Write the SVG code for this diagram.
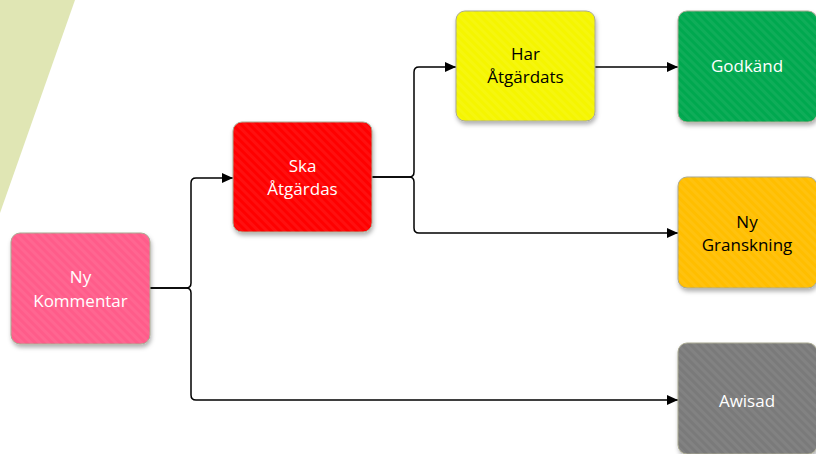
<svg xmlns="http://www.w3.org/2000/svg" width="816" height="454" viewBox="0 0 816 454">
<defs>
<style>
.node rect.box{stroke:#a8a890;stroke-width:1;filter:url(#sh)}
.node rect.tex{fill:url(#stripes);pointer-events:none}
.lbl{font-family:"Open Sans","Liberation Sans",sans-serif;font-size:17px;text-anchor:middle}
.w{fill:#ffffff}
.k{fill:#000000}
.conn path{fill:none;stroke:#000;stroke-width:1.5;marker-end:url(#arr)}
</style>
<pattern id="stripes" width="6" height="6" patternUnits="userSpaceOnUse" patternTransform="rotate(-45)">
<rect x="0" y="0" width="3" height="6" fill="#ffffff" fill-opacity="0.06"/>
</pattern>
<filter id="sh" x="-10%" y="-10%" width="125%" height="130%">
<feDropShadow dx="1" dy="3" stdDeviation="2" flood-color="#000" flood-opacity="0.3"/>
</filter>
<marker id="arr" markerWidth="12" markerHeight="10" refX="11" refY="5" orient="auto" markerUnits="userSpaceOnUse">
<path d="M0,0 L11,5 L0,10 Z" fill="#000"/>
</marker>
</defs>
<rect width="816" height="454" fill="#ffffff"/>
<polygon points="0,0 75,0 0,213" fill="#e0e6b4"/>
<g class="conn" id="connectors">
<path d="M150,288 H186 Q191,288 191,283 V183 Q191,178 196,178 H233"/>
<path d="M150,288 H186 Q191,288 191,293 V395 Q191,400 196,400 H678"/>
<path d="M372,177 H409 Q414,177 414,172 V72 Q414,67 419,67 H456"/>
<path d="M372,177 H409 Q414,177 414,182 V228 Q414,233 419,233 H678"/>
<path d="M595,67 H678"/>
</g>
<g class="node" id="ny-kommentar">
<rect class="box" x="11" y="233" width="139" height="111" rx="9" fill="#ff5c8a"/>
<rect class="tex" x="11" y="233" width="139" height="111" rx="9"/>
<text class="lbl w" x="80.5" y="283">Ny</text>
<text class="lbl w" x="80.5" y="307">Kommentar</text>
</g>
<g class="node" id="ska-atgardas">
<rect class="box" x="233" y="122" width="139" height="110" rx="9" fill="#ff0000"/>
<rect class="tex" x="233" y="122" width="139" height="110" rx="9"/>
<text class="lbl w" x="302.5" y="172">Ska</text>
<text class="lbl w" x="302.5" y="195">Åtgärdas</text>
</g>
<g class="node" id="har-atgardats">
<rect class="box" x="456" y="11" width="139" height="110" rx="9" fill="#f5f500"/>
<rect class="tex" x="456" y="11" width="139" height="110" rx="9"/>
<text class="lbl k" x="525.5" y="60">Har</text>
<text class="lbl k" x="525.5" y="83">Åtgärdats</text>
</g>
<g class="node" id="godkand">
<rect class="box" x="678" y="11" width="139" height="111" rx="9" fill="#00a84f"/>
<rect class="tex" x="678" y="11" width="139" height="111" rx="9"/>
<text class="lbl w" x="747" y="72">Godkänd</text>
</g>
<g class="node" id="ny-granskning">
<rect class="box" x="678" y="177" width="139" height="111" rx="9" fill="#ffbe00"/>
<rect class="tex" x="678" y="177" width="139" height="111" rx="9"/>
<text class="lbl k" x="747" y="228">Ny</text>
<text class="lbl k" x="747" y="251">Granskning</text>
</g>
<g class="node" id="awisad">
<rect class="box" x="678" y="343" width="139" height="111" rx="9" fill="#7a7a7a"/>
<rect class="tex" x="678" y="343" width="139" height="111" rx="9"/>
<text class="lbl w" x="747" y="407">Awisad</text>
</g>
</svg>
